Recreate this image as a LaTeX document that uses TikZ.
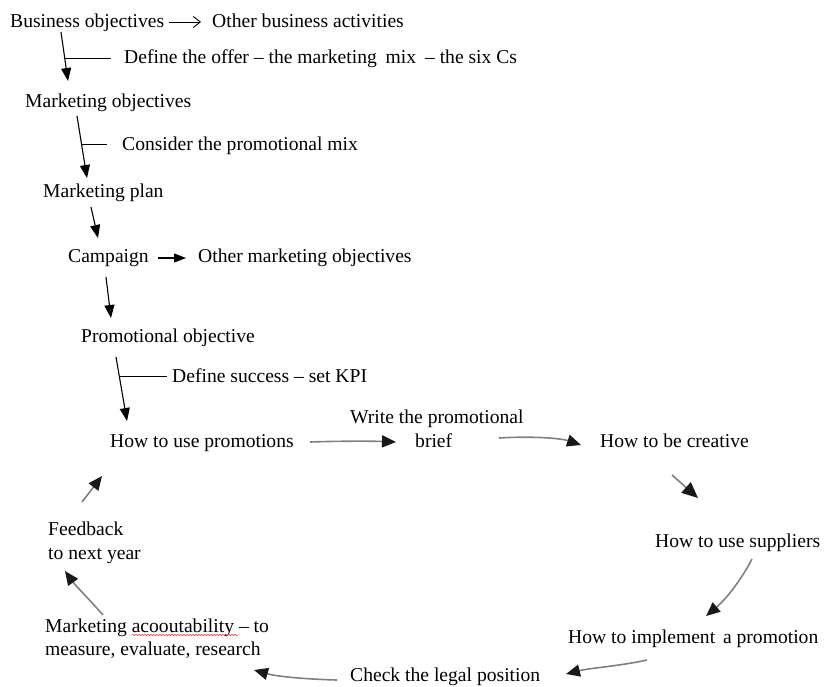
\documentclass[tikz,border=0pt]{standalone}
\usepackage{fontspec}
\setmainfont{Liberation Serif}
\usetikzlibrary{arrows.meta,decorations.pathmorphing,calc}
\begin{document}
\begin{tikzpicture}[x=1pt,y=-1pt,
  lbl/.style={anchor=base west, inner sep=0pt, text=black, font=\fontsize{19.6}{23}\selectfont},
  blk/.style={draw=black, line width=1.1pt, -{Triangle[length=13pt,width=10pt]}},
  branch/.style={draw=black, line width=0.9pt},
  gry/.style={draw=black!50, line width=1.6pt, -{Triangle[length=14pt,width=12pt,color=black!90]}},
  wavy/.style={draw=red!80, line width=0.5pt, decorate, decoration={snake, amplitude=0.8pt, segment length=3pt}}]
\fill[white] (0,0) rectangle (825,686);
\useasboundingbox (0,0) rectangle (825,686);

% texts
\node[lbl] (bo) at (10,27) {Business objectives};
\node[lbl] (oba) at (212,27) {Other business activities};
\node[lbl] (def) at (124,63) {Define the offer -- the marketing\hspace{0.45em}mix\hspace{0.45em}-- the six Cs};
\node[lbl] (mo) at (25,107) {Marketing objectives};
\node[lbl] (cpm) at (122,150) {Consider the promotional mix};
\node[lbl] (mp) at (43,197) {Marketing plan};
\node[lbl] (camp) at (68,262) {Campaign};
\node[lbl] (omo) at (198,262) {Other marketing\ objectives};
\node[lbl] (po) at (81,342) {Promotional\ objective};
\node[lbl] (ds) at (172,382) {Define\ success -- set KPI};
\node[lbl] (hup) at (110,447) {How to use promotions};
\node[lbl] (wp) at (350,423) {Write the promotional};
\node[lbl] (brief) at (415,447) {brief};
\node[lbl] (hbc) at (600,447) {How\ to\ be\ creative};
\node[lbl] (hus) at (655,547) {How to use suppliers};
\node[lbl] (hip) at (568,643) {How to implement\hspace{0.4em}a promotion};
\node[lbl] (clp) at (350,681) {Check the legal position};
\node[lbl] (ma) at (45,632) {Marketing acooutability -- to};
\node[lbl] (mer) at (45,655) {measure,\ evaluate, research};
\node[lbl] (fb) at (48,535) {Feedback};
\node[lbl] (tny) at (48,559) {to next year};

% connector end points
\coordinate (a1s) at (61,32);   \coordinate (a1e) at (68,81);
\coordinate (b1s) at (64.8,58); \coordinate (b1e) at (111,58);
\coordinate (a2s) at (77,116);  \coordinate (a2e) at (87,178);
\coordinate (b2s) at (81.5,144);\coordinate (b2e) at (107,144);
\coordinate (a3s) at (91,207);  \coordinate (a3e) at (98,238);
\coordinate (a4s) at (106,277); \coordinate (a4e) at (111,318);
\coordinate (a5s) at (116,357); \coordinate (a5e) at (127,421);
\coordinate (b5s) at (119.4,376);\coordinate (b5e) at (167,376);
\coordinate (h1s) at (169,22);  \coordinate (h1e) at (201,22);
\coordinate (h2s) at (158,258); \coordinate (h2e) at (186,258);
\coordinate (l1s) at (310,442); \coordinate (l1e) at (396,442);
\coordinate (l2s) at (499,438); \coordinate (l2e) at (581,445);
\coordinate (l3s) at (672,475); \coordinate (l3e) at (698,498);
\coordinate (l4s) at (752,559); \coordinate (l4e) at (706,616);
\coordinate (l5s) at (647,660); \coordinate (l5e) at (566,674);
\coordinate (l6s) at (337,680); \coordinate (l6e) at (254,670);
\coordinate (l7s) at (103,615); \coordinate (l7e) at (65,571);
\coordinate (l8s) at (82,502);  \coordinate (l8e) at (102,476);

% left chain
\draw[blk] (a1s) -- (a1e);
\draw[branch] (b1s) -- (b1e);
\draw[blk] (a2s) -- (a2e);
\draw[branch] (b2s) -- (b2e);
\draw[blk] (a3s) -- (a3e);
\draw[blk] (a4s) -- (a4e);
\draw[blk] (a5s) -- (a5e);
\draw[branch] (b5s) -- (b5e);
\draw[black, line width=0.9pt, -{Straight Barb[length=7pt,width=11pt]}] (h1s) -- (h1e);
\draw[blk, -{Triangle[length=12pt,width=9pt]}] (h2s) -- (h2e);

% loop
\draw[gry] (l1s) .. controls (340,441) and (370,441) .. (l1e);
\draw[gry] (l2s) .. controls (530,436) and (560,438) .. (l2e);
\draw[gry, -{Triangle[length=16pt,width=14pt,color=black!90]}] (l3s) -- (l3e);
\draw[gry] (l4s) .. controls (740,582) and (725,600) .. (l4e);
\draw[gry] (l5s) .. controls (620,666) and (590,668) .. (l5e);
\draw[gry] (l6s) .. controls (300,679) and (275,676) .. (l6e);
\draw[gry] (l7s) .. controls (88,598) and (75,585) .. (l7e);
\draw[gry] (l8s) -- (l8e);

% spell-check underline
\draw[wavy] (132,635) -- (238,635);
\end{tikzpicture}
\end{document}
